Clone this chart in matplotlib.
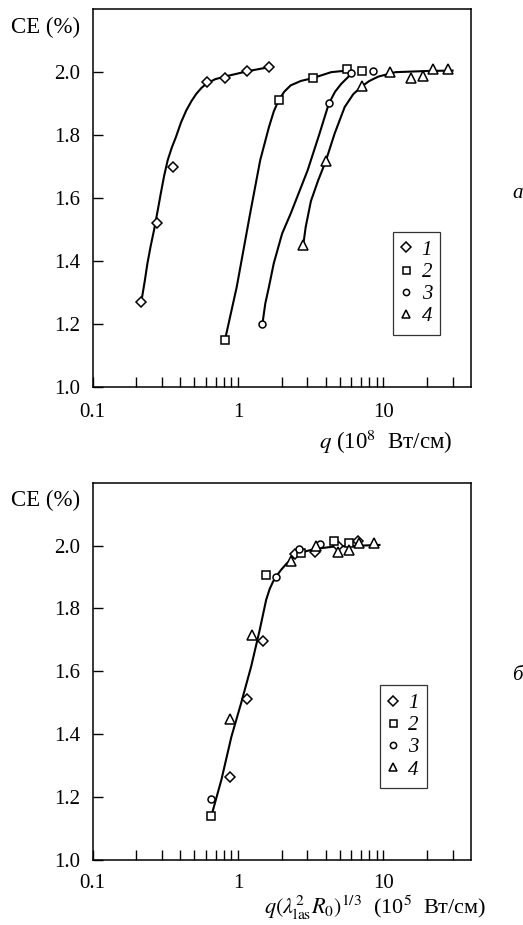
#!/usr/bin/env python3
"""
Conversion efficiency CE vs laser intensity q (panel a) and vs the
scaled intensity q(lambda^2 R0)^(1/3) (panel b), four target series.

Output:
- out.png
"""

from __future__ import annotations

import matplotlib

matplotlib.use("Agg")
import matplotlib.pyplot as plt
from matplotlib.ticker import FixedLocator, FixedFormatter, NullFormatter

# --- panel a: measured points (q in 1e8 W/cm) ---
q1_a = [0.216, 0.279, 0.357, 0.612, 0.812, 1.16, 1.64]
ce1_a = [1.27, 1.52, 1.70, 1.97, 1.983, 2.003, 2.016]
q2_a = [0.812, 1.90, 3.26, 5.59, 7.07]
ce2_a = [1.148, 1.912, 1.981, 2.011, 2.003]
q3_a = [1.47, 4.21, 6.02, 8.52]
ce3_a = [1.199, 1.902, 1.996, 2.003]
q4_a = [2.81, 4.01, 7.11, 11.1, 15.4, 18.7, 21.9, 28.0]
ce4_a = [1.452, 1.717, 1.955, 2.0, 1.981, 1.987, 2.009, 2.009]

# panel a: hand-drawn guide curves
fit1_q = [0.216, 0.228, 0.238, 0.250, 0.264, 0.280, 0.294, 0.310, 0.328, 0.350,
          0.374, 0.405, 0.440, 0.478, 0.516, 0.560, 0.612, 0.700, 0.812, 1.16, 1.64]
fit1_ce = [1.27, 1.335, 1.392, 1.445, 1.497, 1.560, 1.614, 1.670, 1.720, 1.760,
           1.794, 1.840, 1.878, 1.908, 1.931, 1.950, 1.965, 1.978, 1.986, 2.003, 2.016]
fit2_q = [0.812, 0.979, 1.21, 1.42, 1.63, 1.76, 1.90, 2.08, 2.30, 2.70, 3.26, 4.37, 5.59]
fit2_ce = [1.148, 1.317, 1.550, 1.720, 1.825, 1.875, 1.910, 1.938, 1.958, 1.972, 1.981, 2.0, 2.005]
fit3_q = [1.47, 1.54, 1.63, 1.76, 2.01, 2.30, 3.01, 3.63, 4.21, 4.65, 5.13, 6.02]
fit3_ce = [1.199, 1.265, 1.317, 1.392, 1.487, 1.550, 1.688, 1.804, 1.900, 1.938, 1.963, 1.995]
fit4_q = [2.81, 2.92, 3.17, 3.55, 4.01, 4.61, 5.41, 6.20, 7.11, 8.0, 9.23, 12.1, 20.6, 29.9]
fit4_ce = [1.452, 1.508, 1.590, 1.655, 1.717, 1.804, 1.889, 1.930, 1.955, 1.972, 1.986, 2.0, 2.004, 2.005]

# --- panel b: scaled intensity (1e5 W/cm) ---
q1_b = [0.885, 1.16, 1.49, 2.45, 3.36, 4.85, 6.67]
ce1_b = [1.263, 1.513, 1.697, 1.973, 1.981, 2.0, 2.013]
q2_b = [0.656, 1.56, 2.72, 4.56, 5.78]
ce2_b = [1.141, 1.907, 1.976, 2.015, 2.008]
q3_b = [0.648, 1.83, 2.62, 3.69]
ce3_b = [1.193, 1.899, 1.990, 2.005]
q4_b = [0.885, 1.25, 2.32, 3.44, 4.86, 5.84, 6.8, 8.67]
ce4_b = [1.448, 1.714, 1.951, 2.0, 1.980, 1.986, 2.009, 2.008]

fit_b_q = [0.656, 0.768, 0.900, 1.05, 1.23, 1.41, 1.56, 1.65, 1.74, 1.85, 1.98,
           2.15, 2.32, 2.72, 3.36, 4.61, 6.32, 9.39]
fit_b_ce = [1.141, 1.255, 1.392, 1.499, 1.615, 1.732, 1.827, 1.862, 1.885, 1.905, 1.923,
            1.942, 1.957, 1.978, 1.989, 1.997, 1.999, 2.002]

series_labels = ["1", "2", "3", "4"]
y_ticks = [1.0, 1.2, 1.4, 1.6, 1.8, 2.0]
x_major = [0.1, 1, 10]
x_major_labels = ["0.1", "1", "10"]
x_minor = [0.2, 0.3, 0.4, 0.5, 0.6, 0.7, 0.8, 0.9,
           2, 3, 4, 5, 6, 7, 8, 9, 20, 30]

FS = 15
FS_LABEL = 16.5
MARKERS = [("D", 5.2), ("s", 5.6), ("o", 5.0), ("^", 6.8)]

plt.rcParams["font.family"] = ["Liberation Serif", "DejaVu Serif"]
plt.rcParams["mathtext.fontset"] = "stix"


def style_axes(ax, xpad=11.5) -> None:
    ax.set_xscale("log")
    ax.set_xlim(0.1, 40)
    ax.set_ylim(1.0, 2.2)
    ax.xaxis.set_major_locator(FixedLocator(x_major))
    ax.xaxis.set_major_formatter(FixedFormatter(x_major_labels))
    ax.xaxis.set_minor_locator(FixedLocator(x_minor))
    ax.xaxis.set_minor_formatter(NullFormatter())
    ax.set_yticks(y_ticks)
    ax.set_yticklabels([f"{v:.1f}" for v in y_ticks])
    ax.tick_params(which="both", direction="in", length=7, width=1.0,
                   labelsize=FS, top=False, right=False)
    ax.tick_params(axis="x", pad=xpad)
    ax.tick_params(axis="y", pad=9)
    for sp in ax.spines.values():
        sp.set_linewidth(1.1)


def draw_points(ax, xs, ys) -> list:
    handles = []
    for (x, y), (m, ms), lab in zip(zip(xs, ys), MARKERS, series_labels):
        (h,) = ax.plot(x, y, linestyle="none", marker=m, markersize=ms,
                       markerfacecolor="white", markeredgecolor="black",
                       markeredgewidth=1.1, label=lab, zorder=3)
        handles.append(h)
    return handles


def add_legend(ax, anchor) -> None:
    leg = ax.legend(loc="upper left", bbox_to_anchor=anchor, borderaxespad=0,
                    prop={"style": "italic", "size": FS}, frameon=True,
                    fancybox=False, handlelength=0.4, handletextpad=0.55,
                    labelspacing=0.13, borderpad=0.4, markerscale=0.9)
    leg.get_frame().set_edgecolor("black")
    leg.get_frame().set_linewidth(0.9)


def main() -> None:
    fig = plt.figure(figsize=(5.23, 9.25), dpi=100)
    ax_a = fig.add_axes([0.1772, 0.5819, 0.7233, 0.4081])
    ax_b = fig.add_axes([0.1772, 0.0703, 0.7233, 0.4079])

    # panel a
    for fq, fc in [(fit1_q, fit1_ce), (fit2_q, fit2_ce), (fit3_q, fit3_ce), (fit4_q, fit4_ce)]:
        ax_a.plot(fq, fc, color="black", linewidth=1.5, zorder=2)
    draw_points(ax_a, [q1_a, q2_a, q3_a, q4_a], [ce1_a, ce2_a, ce3_a, ce4_a])
    style_axes(ax_a)
    add_legend(ax_a, (0.795, 0.411))

    # panel b
    ax_b.plot(fit_b_q, fit_b_ce, color="black", linewidth=1.5, zorder=2)
    draw_points(ax_b, [q1_b, q2_b, q3_b, q4_b], [ce1_b, ce2_b, ce3_b, ce4_b])
    style_axes(ax_b, xpad=10)
    add_legend(ax_b, (0.76, 0.464))

    # axis titles placed like the printed figure
    fig.text(80 / 523, 1 - 27 / 925, "CE (%)", ha="right", va="center", fontsize=FS_LABEL)
    fig.text(80 / 523, 1 - 500 / 925, "CE (%)", ha="right", va="center", fontsize=FS_LABEL)
    fig.text(386 / 523, 1 - 449 / 925, r"$q$ (10$^8$  Вт/см)", ha="center",
             va="baseline", fontsize=FS_LABEL)
    fig.text(486 / 523, 1 - 914.5 / 925,
             r"$q(\lambda_{\rm las}^{2}R_{0})^{1/3}$  (10$^5$  Вт/см)",
             ha="right", va="baseline", fontsize=16)
    fig.text(518 / 523, 1 - 193 / 925, "а", ha="center", va="center",
             fontsize=FS, style="italic")
    fig.text(517 / 523, 1 - 675 / 925, "б", ha="center", va="center",
             fontsize=FS, style="italic")

    fig.savefig("out.png", dpi=100)
    plt.close(fig)


if __name__ == "__main__":
    main()
